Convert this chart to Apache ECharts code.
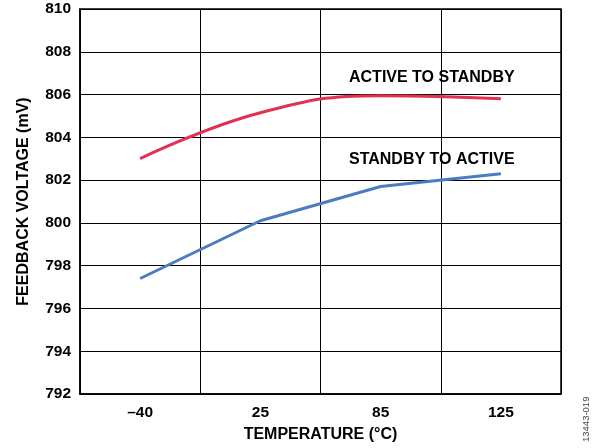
<!DOCTYPE html>
<html><head><meta charset="utf-8">
<script src="https://cdn.jsdelivr.net/npm/echarts@6/dist/echarts.min.js"></script>
<style>html,body{margin:0;padding:0;background:#fff}#c{width:600px;height:448px}</style>
</head><body><div id="c"></div>
<script>
const categories = ['–40', '25', '85', '125'];
const activeToStandby = [803.0, 805.15, 805.95, 805.8];
const standbyToActive = [797.4, 800.1, 801.7, 802.3];
const yMin = 792, yMax = 810, yStep = 2;

const font = 'Liberation Sans, Arial, sans-serif';
const chart = echarts.init(document.getElementById('c'), null, {renderer: 'canvas'});
chart.setOption({
  animation: false,
  backgroundColor: '#fff',
  grid: {left: 80, right: 39, top: 9, bottom: 54, show: true, borderColor: '#000', borderWidth: 1.5,
         containLabel: false, outerBoundsMode: 'none'},
  xAxis: {
    type: 'category', data: categories, boundaryGap: true,
    name: 'TEMPERATURE (°C)', nameLocation: 'middle', nameGap: 33,
    nameTextStyle: {fontFamily: font, fontWeight: 'bold', fontSize: 16, color: '#000'},
    axisLine: {show: true, lineStyle: {color: '#000', width: 1.5}},
    axisTick: {show: false},
    axisLabel: {fontFamily: font, fontWeight: 'bold', fontSize: 15.5, color: '#000', margin: 11},
    splitLine: {show: true, lineStyle: {color: '#000', width: 1}}
  },
  yAxis: {
    type: 'value', min: yMin, max: yMax, interval: yStep,
    name: 'FEEDBACK VOLTAGE (mV)', nameLocation: 'middle', nameGap: 48,
    nameTextStyle: {fontFamily: font, fontWeight: 'bold', fontSize: 16, color: '#000'},
    axisLine: {show: true, lineStyle: {color: '#000', width: 1.5}},
    axisTick: {show: false},
    axisLabel: {fontFamily: font, fontWeight: 'bold', fontSize: 15.5, color: '#000', margin: 9},
    splitLine: {show: true, lineStyle: {color: '#000', width: 1}}
  },
  series: [
    {name: 'ACTIVE TO STANDBY', type: 'line', data: activeToStandby, smooth: 0.45, showSymbol: false,
     lineStyle: {color: '#E23050', width: 3}},
    {name: 'STANDBY TO ACTIVE', type: 'line', data: standbyToActive, smooth: false, showSymbol: false,
     lineStyle: {color: '#4A7DC0', width: 3}}
  ],
  graphic: [
    {type: 'text', left: 349, top: 70, style: {text: 'ACTIVE TO STANDBY', font: 'bold 16px ' + font, fill: '#000'}},
    {type: 'text', left: 349, top: 152, style: {text: 'STANDBY TO ACTIVE', font: 'bold 16px ' + font, fill: '#000'}},
    {type: 'text', x: 581, y: 442, rotation: Math.PI / 2, style: {text: '13443-019', font: '9.5px ' + font, fill: '#444'}}
  ]
});
</script></body></html>
